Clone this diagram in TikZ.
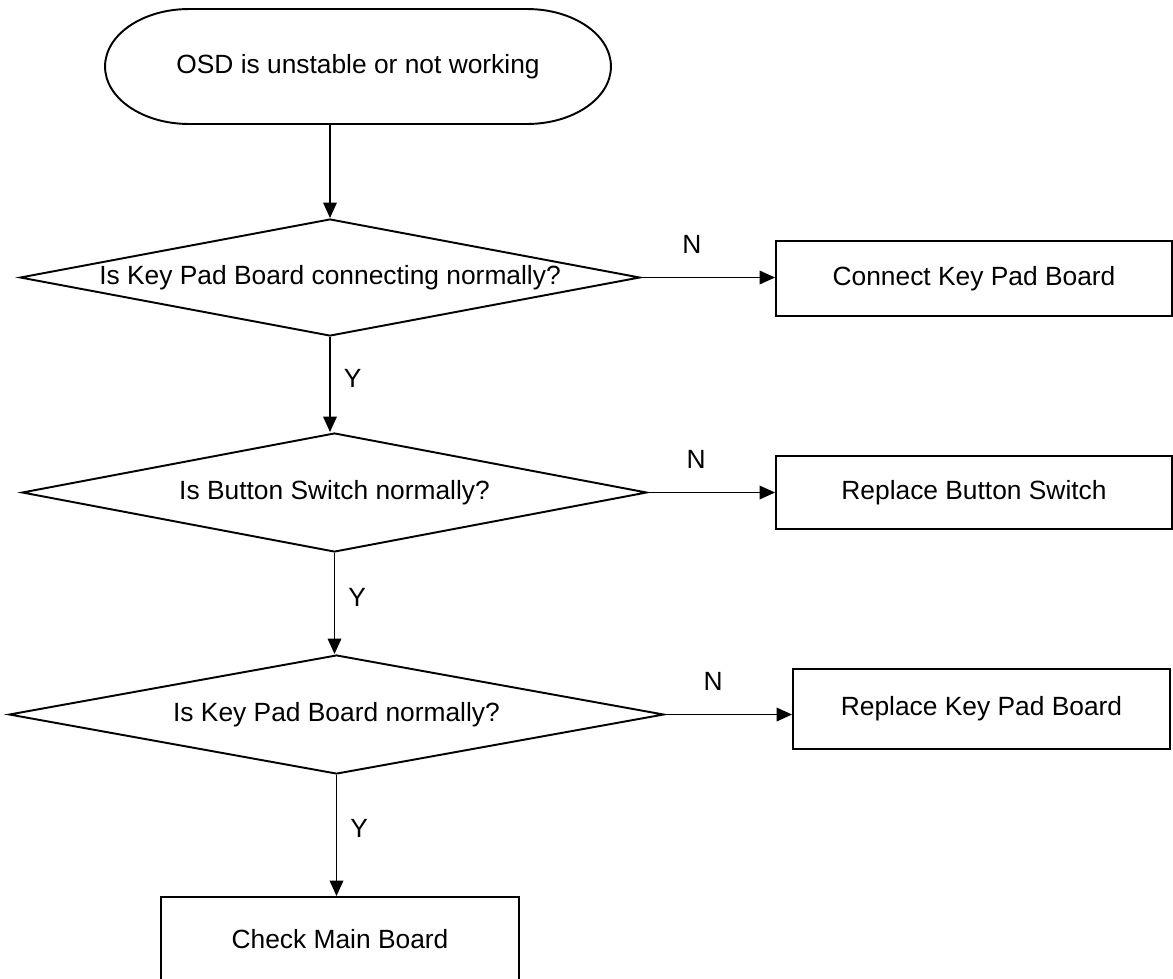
\documentclass[tikz,border=0pt]{standalone}
\usepackage{fontspec}
\setmainfont{Liberation Sans}
\usetikzlibrary{shapes.geometric,arrows.meta}

\begin{document}
\begin{tikzpicture} [
    x=0.02cm, y=-0.02cm,
    font=\fontsize{15}{18}\selectfont,
    block/.style    = { rectangle, draw, line width=1.1pt, text centered,
                        inner sep=0pt, minimum height=1.5cm },
    decision/.style = { diamond, draw, line width=1.1pt, aspect=5.3,
                        inner sep=0pt, minimum height=2.38cm },
    line/.style     = { draw, line width=1.1pt,
                        -{Triangle[length=3.1mm,width=2.7mm]} },
    lbl/.style      = { inner sep=0pt },
  ]

  \useasboundingbox (0,0) rectangle (1173,978);

  % Define nodes
  \node[block, draw=none, outer sep=0pt, minimum width=10.12cm, minimum height=2.3cm] (start) at (358,66.5) {OSD is unstable or not working};
  \node[decision, minimum width=12.4cm, minimum height=2.34cm] (keypadconn) at (330,277.5) {Is Key Pad Board connecting normally?};
  \node[decision, minimum width=12.5cm] (button) at (334.5,492.5) {Is Button Switch normally?};
  \node[decision, minimum width=13.1cm] (keypad) at (336.5,714.5) {Is Key Pad Board normally?};
  \node[block, minimum width=7.92cm] (connect) at (974,278.5) {Connect Key Pad Board};
  \node[block, minimum width=7.92cm, minimum height=1.46cm] (replbutton) at (974,492.5) {Replace Button Switch};
  \node[block, minimum width=7.54cm, minimum height=1.6cm] (replkeypad) at (981.5,709) {Replace Key Pad Board};
  \node[block, minimum width=7.16cm, minimum height=1.7cm] (mainboard) at (340,939.5) {Check Main Board};

  % terminal outline
  \draw[line width=1.1pt] ([xshift=1.68cm]start.north west) -- ([xshift=-1.68cm]start.north east)
    arc[start angle=90, end angle=-90, x radius=1.68cm, y radius=1.15cm]
    -- ([xshift=1.68cm]start.south west)
    arc[start angle=270, end angle=90, x radius=1.68cm, y radius=1.15cm] -- cycle;

  % connect the nodes
		\path [line] (start.south -| keypadconn.north) -- (keypadconn.north);
		\path [line] (keypadconn.east) --node[lbl, pos=0.38, above=0.47cm]{N} (keypadconn.east -| connect.west);
		\path [line] (keypadconn.south) --node[lbl, pos=0.44, right=0.26cm]{Y} (keypadconn.south |- button.north);
		\path [line] (button.east) --node[lbl, pos=0.38, above=0.47cm]{N} (button.east -| replbutton.west);
		\path [line] (button.south) --node[lbl, pos=0.44, right=0.26cm]{Y} (button.south |- keypad.north);
		\path [line] (keypad.east) --node[lbl, pos=0.38, above=0.47cm]{N} (keypad.east -| replkeypad.west);
		\path [line] (keypad.south) --node[lbl, pos=0.44, right=0.26cm]{Y} (keypad.south |- mainboard.north);
\end{tikzpicture}
\end{document}
